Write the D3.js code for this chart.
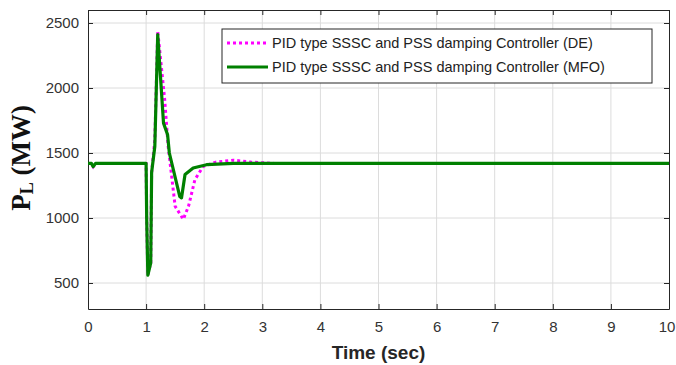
<!DOCTYPE html>
<html><head><meta charset="utf-8">
<script src="https://cdn.jsdelivr.net/npm/d3@7"></script>
<style>body{margin:0;background:#fff}svg{display:block}</style>
</head><body>
<script>
const xTicks = [0,1,2,3,4,5,6,7,8,9,10];
const yTicks = [500,1000,1500,2000,2500];
const seriesNames = ["PID type SSSC and PSS damping Controller (DE)", "PID type SSSC and PSS damping Controller (MFO)"];
const timeDE = [0,0.06,0.09,0.13,1.0,1.01,1.03,1.08,1.095,1.15,1.2,1.32,1.38,1.5,1.64,1.73,1.84,1.98,2.2,2.5,2.8,3.2,10];
const valDE  = [1420,1420,1395,1420,1420,1000,560,655,1350,1600,2440,1910,1550,1090,990,1090,1295,1395,1430,1445,1430,1420,1420];
const timeMFO = [0,0.06,0.09,0.13,1.0,1.01,1.03,1.08,1.095,1.15,1.2,1.3,1.37,1.4,1.58,1.61,1.67,1.81,2.04,2.5,10];
const valMFO  = [1420,1420,1395,1420,1420,1000,560,655,1350,1550,2410,1730,1640,1500,1165,1155,1335,1385,1410,1420,1420];

const W = 676, H = 365;
const m = {l:88, r:7, t:10, b:56};
const svg = d3.select("body").append("svg").attr("width", W).attr("height", H);
const x = d3.scaleLinear().domain([0,10]).range([m.l, W-m.r]);
const y = d3.scaleLinear().domain([300,2600]).range([H-m.b, m.t]);

// grid
svg.append("g").selectAll("line").data(xTicks.slice(1,-1)).join("line")
  .attr("x1", d=>x(d)).attr("x2", d=>x(d)).attr("y1", y(300)).attr("y2", y(2600))
  .attr("stroke", "#dcdcdc").attr("stroke-width", 1);
svg.append("g").selectAll("line").data(yTicks).join("line")
  .attr("y1", d=>y(d)).attr("y2", d=>y(d)).attr("x1", x(0)).attr("x2", x(10))
  .attr("stroke", "#dcdcdc").attr("stroke-width", 1);

const font = "'Liberation Sans', Arial, sans-serif";
const fmt = d3.format("d");
// axes
const gx = svg.append("g").attr("transform", `translate(0,${y(300)})`)
  .call(d3.axisBottom(x).tickValues(xTicks).tickSize(-5).tickSizeOuter(0).tickPadding(12).tickFormat(fmt));
const gxt = svg.append("g").attr("transform", `translate(0,${y(2600)})`)
  .call(d3.axisTop(x).tickValues(xTicks).tickSize(-5).tickSizeOuter(0).tickFormat(""));
const gy = svg.append("g").attr("transform", `translate(${x(0)},0)`)
  .call(d3.axisLeft(y).tickValues(yTicks).tickSize(-5).tickSizeOuter(0).tickPadding(9).tickFormat(fmt));
const gyr = svg.append("g").attr("transform", `translate(${x(10)},0)`)
  .call(d3.axisRight(y).tickValues(yTicks).tickSize(-5).tickSizeOuter(0).tickFormat(""));
[gx,gxt,gy,gyr].forEach(g=>{
  g.selectAll(".domain").attr("stroke","#262626").attr("stroke-width",1);
  g.selectAll(".tick line").attr("stroke","#262626");
  g.selectAll("text").attr("font-family", font).attr("font-size", 15).attr("fill","#333");
});
gx.selectAll(".tick text").filter(d=>d===10).attr("dx", -2.5);

// lines
const line = d3.line().x(d=>x(d[0])).y(d=>y(d[1]));
const dDE = timeDE.map((t,i)=>[t,valDE[i]]);
const dMFO = timeMFO.map((t,i)=>[t,valMFO[i]]);
svg.append("path").datum(dDE).attr("d", line).attr("fill","none")
  .attr("stroke","#ff00ff").attr("stroke-width",3).attr("stroke-dasharray","3,3");
svg.append("path").datum(dMFO).attr("d", line).attr("fill","none")
  .attr("stroke","#008000").attr("stroke-width",3.2).attr("stroke-linejoin","round");

// legend
const lg = svg.append("g");
lg.append("rect").attr("x",222).attr("y",29).attr("width",430).attr("height",54)
  .attr("fill","#fff").attr("stroke","#262626").attr("stroke-width",1);
const items = [{c:"#ff00ff", dash:"3,3", w:3}, {c:"#008000", dash:null, w:3.2}];
items.forEach((it,i)=>{
  const yy = 43 + i*24;
  lg.append("line").attr("x1",227).attr("x2",268).attr("y1",yy).attr("y2",yy)
    .attr("stroke",it.c).attr("stroke-width",it.w).attr("stroke-dasharray",it.dash);
  lg.append("text").attr("x",272).attr("y",yy+5).text(seriesNames[i])
    .attr("font-family",font).attr("font-size",14.5).attr("fill","#222");
});

// axis labels
svg.append("text").attr("x", (x(0)+x(10))/2).attr("y", 359).attr("text-anchor","middle")
  .attr("font-family", font).attr("font-weight","bold").attr("font-size",19).attr("fill","#262626")
  .text("Time (sec)");
const yl = svg.append("text").attr("transform","translate(30,158) rotate(-90)").attr("text-anchor","middle")
  .attr("font-family","'Liberation Serif', 'Times New Roman', serif").attr("font-weight","bold")
  .attr("font-size",27).attr("fill","#111");
yl.append("tspan").text("P");
yl.append("tspan").text("L").attr("font-size",18).attr("dy",3);
yl.append("tspan").text(" (MW)").attr("dy",-3);
</script>
</body></html>
